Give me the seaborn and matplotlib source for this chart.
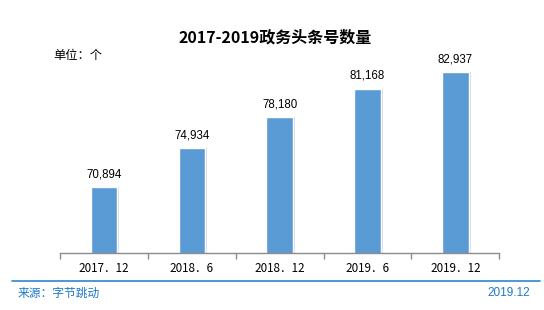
import matplotlib
matplotlib.use("Agg")
import matplotlib.pyplot as plt
import matplotlib.patheffects as pe
import seaborn as sns
import pandas as pd

categories = ["2017．12", "2018．6", "2018．12", "2019．6", "2019．12"]
values = [70894, 74934, 78180, 81168, 82937]

sns.set_theme(style="white")
plt.rcParams['font.family'] = ['Noto Sans CJK SC', 'DejaVu Sans']

df = pd.DataFrame({"period": categories, "count": values})

W, H = 544, 310
fig = plt.figure(figsize=(W/100, H/100), dpi=100)
ax = fig.add_axes([60/W, (H-252.7)/H, 439.3/W, 198/H])
sns.barplot(data=df, x="period", y="count", color="#5b9bd5", width=0.30,
            saturation=1, ax=ax)
for p in ax.patches:
    p.set_path_effects([pe.SimplePatchShadow(offset=(1.5, 0), shadow_rgbFace="#d9d9d9", alpha=1), pe.Normal()])

ax.set_ylim(63983, 63983 + 198/0.00955)
ax.set_xlim(-0.5, 4.5)
for i, v in enumerate(values):
    ax.text(i, v + 700, f"{v:,}", ha="center", va="bottom", fontsize=8.3,
            family=["Liberation Sans", "DejaVu Sans"], color="#000000")

ax.set_xlabel("")
ax.set_ylabel("")
ax.set_yticks([])
for s in ["top", "right", "left"]:
    ax.spines[s].set_visible(False)
ax.spines["bottom"].set_color("#8c8c8c")
ax.spines["bottom"].set_linewidth(1)
ax.set_xticks(range(len(categories)))
ax.set_xticklabels(categories, fontsize=8.4, color="#000000")
ax.set_xticks([i - 0.5 for i in range(len(categories) + 1)], minor=True)
ax.tick_params(axis="x", which="major", length=0, pad=7)
ax.tick_params(axis="x", which="minor", length=4, color="#8c8c8c", width=1, bottom=True)

fig.text(275/W, 1 - 37/H, "2017-2019政务头条号数量", ha="center", va="center",
         fontsize=11.5, fontweight="bold", color="#000000")
fig.text(53/W, 1 - 55/H, "单位：个", ha="left", va="center", fontsize=8.8, color="#000000")

fig.add_artist(plt.Line2D([12/W, 540/W], [1 - 280.5/H, 1 - 280.5/H], color="#2e86d6", lw=1.2))
fig.text(18/W, 1 - 293/H, "来源：字节跳动", ha="left", va="center", fontsize=8.5, color="#1f78c8")
fig.text(530/W, 1 - 293/H, "2019.12", ha="right", va="center", fontsize=8.5, color="#1f78c8",
         family=["Liberation Sans", "DejaVu Sans"])

fig.savefig("out.png", dpi=100)
